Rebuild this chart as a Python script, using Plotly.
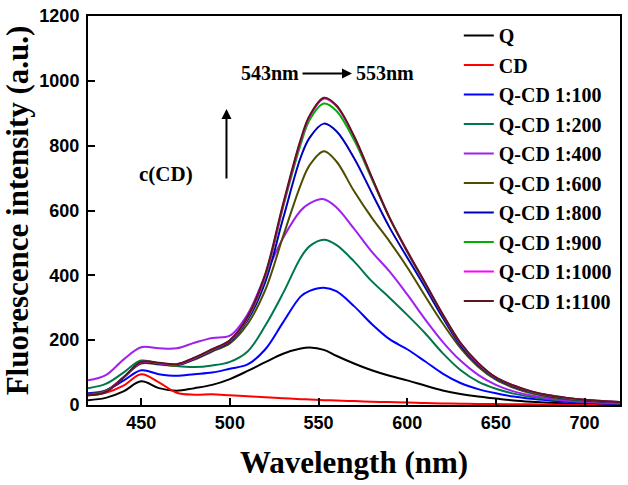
import plotly.graph_objects as go

wavelength = [420, 430, 440, 450, 460, 470, 480, 490, 500, 510, 520, 530, 540, 545, 553,
              560, 570, 580, 590, 600, 610, 620, 630, 640, 650, 660, 670, 680, 690, 700, 710, 720]

series_names = ["Q", "CD", "Q-CD 1:100", "Q-CD 1:200", "Q-CD 1:400", "Q-CD 1:600",
                "Q-CD 1:800", "Q-CD 1:900", "Q-CD 1:1000", "Q-CD 1:1100"]

q = [15, 22, 42, 73, 52, 44, 52, 62, 80, 105, 132, 158, 174, 177, 170,
     152, 128, 107, 90, 76, 60, 45, 34, 26, 20, 14, 10, 7, 5, 4, 3, 2]
cd = [30, 38, 60, 95, 70, 38, 32, 33, 30, 27, 24, 21, 18, 17, 15,
      14, 12, 10, 9, 8, 6, 5, 4, 3, 3, 2, 2, 1, 1, 1, 1, 0]
qcd_100 = [36, 45, 75, 107, 95, 90, 95, 100, 112, 125, 172, 255, 335, 352, 362,
           351, 305, 250, 203, 172, 135, 97, 68, 49, 36, 26, 19, 14, 10, 7, 5, 4]
qcd_200 = [52, 65, 100, 137, 128, 120, 117, 122, 133, 165, 245, 345, 455, 490, 510,
           494, 443, 382, 331, 278, 222, 160, 108, 72, 50, 35, 25, 18, 13, 9, 7, 5]
qcd_400 = [76, 92, 140, 178, 175, 175, 192, 207, 214, 280, 400, 515, 600, 622, 635,
           610, 544, 473, 412, 341, 265, 195, 137, 93, 62, 42, 29, 20, 14, 10, 8, 6]
qcd_600 = [34, 44, 85, 128, 125, 122, 140, 165, 190, 250, 355, 520, 680, 740, 783,
           752, 660, 578, 505, 425, 337, 252, 176, 118, 78, 53, 36, 25, 18, 13, 10, 8]
qcd_800 = [33, 43, 85, 130, 127, 124, 143, 168, 195, 262, 380, 575, 765, 825, 868,
           845, 762, 655, 548, 455, 364, 270, 184, 124, 82, 57, 40, 28, 20, 15, 11, 9]
qcd_900 = [32, 42, 85, 132, 129, 125, 145, 170, 198, 268, 395, 610, 805, 880, 930,
           908, 818, 698, 578, 472, 375, 278, 190, 128, 84, 59, 41, 29, 21, 16, 12, 9]
qcd_1000 = [30, 41, 85, 132, 129, 125, 145, 171, 199, 270, 400, 615, 815, 890, 945,
            922, 828, 702, 578, 474, 377, 280, 191, 129, 85, 60, 42, 30, 22, 16, 12, 9]
qcd_1100 = [30, 40, 85, 133, 130, 126, 146, 172, 200, 272, 405, 620, 820, 893, 948,
            925, 830, 703, 578, 475, 378, 280, 192, 130, 85, 60, 42, 30, 22, 16, 12, 9]

all_series = [q, cd, qcd_100, qcd_200, qcd_400, qcd_600, qcd_800, qcd_900, qcd_1000, qcd_1100]
colors = ["#000000", "#ff0000", "#0000ff", "#00774a", "#a020f0", "#4d4d00",
          "#0000b8", "#00b000", "#ff00ff", "#5a1818"]

x_ticks = [450, 500, 550, 600, 650, 700]
y_ticks = [0, 200, 400, 600, 800, 1000, 1200]

SERIF = "Liberation Serif"
SANS = "Liberation Sans"

fig = go.Figure()
for name, vals, col in zip(series_names, all_series, colors):
    fig.add_trace(go.Scatter(
        x=wavelength, y=vals, name=name, mode="lines",
        line=dict(color=col, width=2, shape="spline", smoothing=1.0),
        legendgroup=name,
    ))

axis_common = dict(
    showline=True, linecolor="black", linewidth=2, mirror=True,
    ticks="inside", ticklen=7, tickwidth=2, tickcolor="black",
    showgrid=False, zeroline=False,
    tickfont=dict(family=SANS, size=18, color="black", weight="bold"),
)

fig.update_layout(
    width=628, height=485,
    margin=dict(l=88, r=6, t=12, b=80),
    paper_bgcolor="white", plot_bgcolor="white",
    xaxis=dict(range=[420, 720], tickvals=x_ticks, **axis_common,
               title=dict(text="Wavelength (nm)", standoff=20,
                          font=dict(family=SERIF, size=31, color="black", weight="bold"))),
    yaxis=dict(range=[0, 1200], tickvals=y_ticks, ticklabelstandoff=3, **axis_common,
               title=dict(text="Fluorescence intensity (a.u.)", standoff=7,
                          font=dict(family=SERIF, size=31, color="black", weight="bold"))),
    legend=dict(x=0.697, y=1.0, xanchor="left", yanchor="top",
                bgcolor="rgba(0,0,0,0)", borderwidth=0, maxheight=460,
                font=dict(family=SERIF, size=20, color="black", weight="bold"),
                tracegroupgap=0.5),
    showlegend=True,
)

ann_font = dict(family=SERIF, size=20, color="black", weight="bold")
fig.add_annotation(xref="paper", yref="paper", x=0.3427, y=0.8524, text="543nm",
                   xanchor="center", yanchor="middle", showarrow=False, font=ann_font)
fig.add_annotation(xref="paper", yref="paper", x=0.558, y=0.8524, text="553nm",
                   xanchor="center", yanchor="middle", showarrow=False, font=ann_font)
fig.add_annotation(xref="paper", yref="paper", x=(353 - 88) / 534, y=(405 - 70) / 393,
                   text="", showarrow=True, ax=-51, ay=0, arrowhead=2, arrowsize=1,
                   arrowwidth=2, arrowcolor="black")
fig.add_annotation(xref="paper", yref="paper", x=0.1464, y=0.593, text="c(CD)",
                   xanchor="center", yanchor="middle", showarrow=False,
                   font=dict(family=SERIF, size=21, color="black", weight="bold"))
fig.add_annotation(xref="paper", yref="paper", x=(227 - 88) / 534, y=(405 - 106) / 393,
                   text="", showarrow=True, ax=0, ay=71, arrowhead=2, arrowsize=1,
                   arrowwidth=2, arrowcolor="black")

fig.write_html("out.html", config={"displayModeBar": False},
               post_script="document.body.style.margin='0';")
